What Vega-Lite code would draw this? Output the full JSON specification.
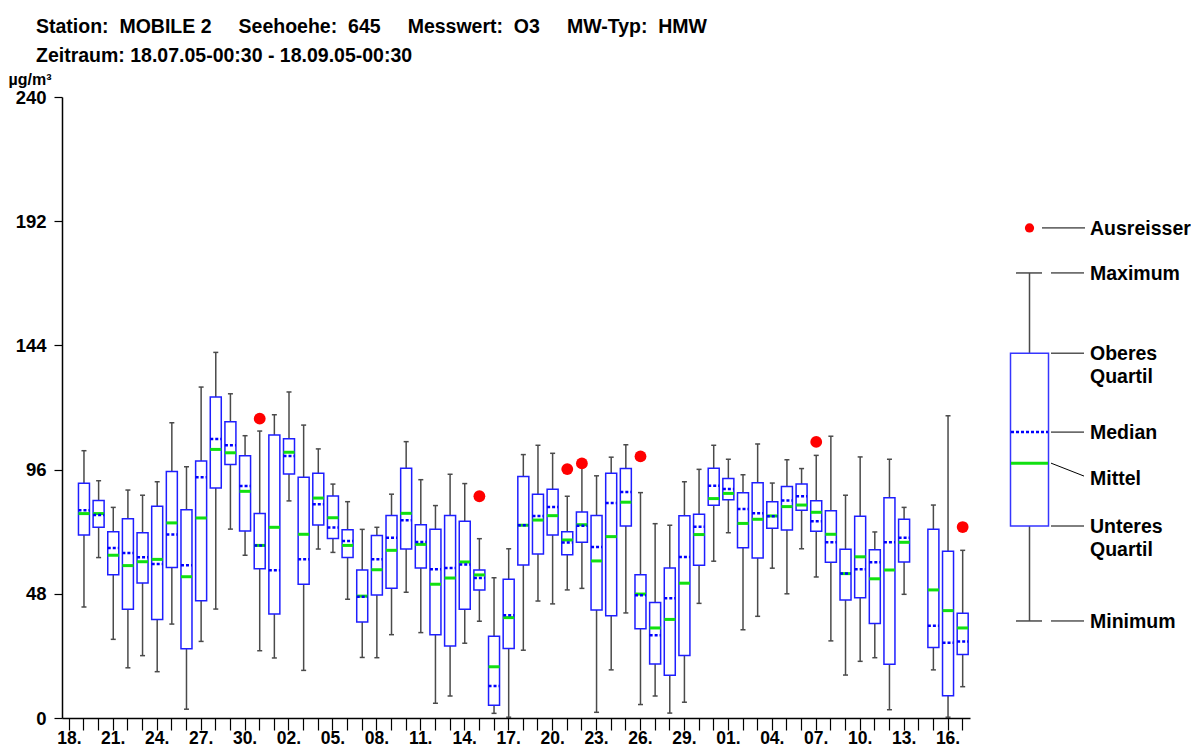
{
  "$schema": "https://vega.github.io/schema/vega-lite/v6.json",
  "background": "white",
  "padding": {"left": 8, "top": 16, "right": 0, "bottom": 0},
  "bounds": "flush",
  "spacing": 0,
  "config": {
    "font": "Liberation Sans, Arial, Helvetica, sans-serif",
    "view": {"stroke": null}
  },
  "title": {
    "text": ["Station:\u00a0 MOBILE 2 \u00a0\u00a0\u00a0\u00a0Seehoehe:\u00a0 645 \u00a0\u00a0\u00a0\u00a0Messwert:\u00a0 O3 \u00a0\u00a0\u00a0\u00a0MW-Typ:\u00a0 HMW", "Zeitraum: 18.07.05-00:30 - 18.09.05-00:30"],
    "anchor": "start",
    "frame": "group",
    "fontSize": 19.5,
    "fontWeight": "bold",
    "color": "black",
    "lineHeight": 29,
    "dx": -26,
    "offset": 5
  },
  "datasets": {
    "boxes": [
      {"d": "2005-07-19", "min": 42.9, "q1": 70.7, "med": 80.3, "mean": 79.0, "q3": 90.7, "max": 103.3},
      {"d": "2005-07-20", "min": 62.0, "q1": 73.7, "med": 78.5, "mean": 79.0, "q3": 84.1, "max": 91.7},
      {"d": "2005-07-21", "min": 30.4, "q1": 55.4, "med": 65.7, "mean": 62.9, "q3": 72.0, "max": 81.4},
      {"d": "2005-07-22", "min": 19.4, "q1": 42.0, "med": 63.8, "mean": 58.9, "q3": 77.0, "max": 88.1},
      {"d": "2005-07-23", "min": 24.1, "q1": 52.2, "med": 62.1, "mean": 60.4, "q3": 71.6, "max": 86.1},
      {"d": "2005-07-24", "min": 17.9, "q1": 38.1, "med": 59.5, "mean": 61.3, "q3": 81.8, "max": 91.3},
      {"d": "2005-07-25", "min": 36.3, "q1": 58.2, "med": 70.9, "mean": 75.4, "q3": 95.3, "max": 114.1},
      {"d": "2005-07-26", "min": 3.4, "q1": 26.8, "med": 59.0, "mean": 54.6, "q3": 80.5, "max": 97.1},
      {"d": "2005-07-27", "min": 29.6, "q1": 45.3, "med": 93.0, "mean": 77.3, "q3": 99.3, "max": 127.9},
      {"d": "2005-07-28", "min": 42.1, "q1": 88.9, "med": 107.8, "mean": 103.8, "q3": 124.1, "max": 141.3},
      {"d": "2005-07-29", "min": 73.0, "q1": 98.0, "med": 105.4, "mean": 102.5, "q3": 114.5, "max": 125.3},
      {"d": "2005-07-30", "min": 62.9, "q1": 72.3, "med": 89.7, "mean": 87.6, "q3": 101.4, "max": 109.1},
      {"d": "2005-07-31", "min": 26.0, "q1": 57.7, "med": 66.7, "mean": 66.7, "q3": 79.0, "max": 110.9},
      {"d": "2005-08-01", "min": 23.2, "q1": 40.2, "med": 57.1, "mean": 73.7, "q3": 109.4, "max": 117.2},
      {"d": "2005-08-02", "min": 83.9, "q1": 94.3, "med": 101.3, "mean": 102.7, "q3": 107.9, "max": 126.0},
      {"d": "2005-08-03", "min": 18.4, "q1": 51.7, "med": 61.4, "mean": 71.0, "q3": 93.0, "max": 113.2},
      {"d": "2005-08-04", "min": 65.3, "q1": 74.6, "med": 82.6, "mean": 85.0, "q3": 94.6, "max": 104.0},
      {"d": "2005-08-05", "min": 64.0, "q1": 69.4, "med": 73.6, "mean": 77.4, "q3": 85.8, "max": 90.4},
      {"d": "2005-08-06", "min": 45.9, "q1": 62.0, "med": 68.4, "mean": 66.7, "q3": 72.8, "max": 83.6},
      {"d": "2005-08-07", "min": 23.4, "q1": 37.1, "med": 46.9, "mean": 47.1, "q3": 57.2, "max": 72.9},
      {"d": "2005-08-08", "min": 23.3, "q1": 47.5, "med": 61.4, "mean": 57.3, "q3": 70.5, "max": 73.7},
      {"d": "2005-08-09", "min": 32.2, "q1": 50.1, "med": 69.7, "mean": 64.8, "q3": 78.3, "max": 86.5},
      {"d": "2005-08-10", "min": 48.6, "q1": 65.3, "med": 76.4, "mean": 79.1, "q3": 96.5, "max": 106.8},
      {"d": "2005-08-11", "min": 33.0, "q1": 58.0, "med": 68.0, "mean": 67.1, "q3": 74.7, "max": 92.1},
      {"d": "2005-08-12", "min": 5.7, "q1": 32.2, "med": 57.5, "mean": 51.7, "q3": 72.9, "max": 82.1},
      {"d": "2005-08-13", "min": 8.5, "q1": 27.8, "med": 58.0, "mean": 54.1, "q3": 78.3, "max": 94.2},
      {"d": "2005-08-14", "min": 28.9, "q1": 42.0, "med": 59.3, "mean": 60.3, "q3": 76.0, "max": 90.6},
      {"d": "2005-08-15", "min": 37.4, "q1": 49.5, "med": 54.1, "mean": 55.3, "q3": 57.2, "max": 69.3},
      {"d": "2005-08-16", "min": 1.8, "q1": 4.9, "med": 12.4, "mean": 19.8, "q3": 31.6, "max": 54.2},
      {"d": "2005-08-17", "min": 0.3, "q1": 26.9, "med": 39.7, "mean": 38.8, "q3": 53.6, "max": 65.4},
      {"d": "2005-08-18", "min": 26.2, "q1": 59.1, "med": 74.5, "mean": 74.5, "q3": 93.3, "max": 101.8},
      {"d": "2005-08-19", "min": 45.2, "q1": 63.4, "med": 78.1, "mean": 76.5, "q3": 86.5, "max": 105.4},
      {"d": "2005-08-20", "min": 44.1, "q1": 70.7, "med": 81.5, "mean": 78.2, "q3": 88.4, "max": 102.3},
      {"d": "2005-08-21", "min": 49.5, "q1": 63.1, "med": 67.8, "mean": 68.8, "q3": 72.0, "max": 85.7},
      {"d": "2005-08-22", "min": 50.1, "q1": 67.9, "med": 74.3, "mean": 74.7, "q3": 79.6, "max": 97.4},
      {"d": "2005-08-23", "min": 2.2, "q1": 41.7, "med": 66.1, "mean": 60.7, "q3": 78.3, "max": 93.6},
      {"d": "2005-08-24", "min": 18.6, "q1": 39.5, "med": 83.1, "mean": 70.1, "q3": 94.6, "max": 100.8},
      {"d": "2005-08-25", "min": 40.6, "q1": 74.2, "med": 87.3, "mean": 83.4, "q3": 96.4, "max": 105.6},
      {"d": "2005-08-26", "min": 5.2, "q1": 34.5, "med": 47.4, "mean": 47.9, "q3": 55.4, "max": 87.1},
      {"d": "2005-08-27", "min": 8.5, "q1": 20.9, "med": 32.0, "mean": 34.8, "q3": 44.6, "max": 75.1},
      {"d": "2005-08-28", "min": 1.9, "q1": 16.5, "med": 46.3, "mean": 38.1, "q3": 58.0, "max": 74.5},
      {"d": "2005-08-29", "min": 6.1, "q1": 24.2, "med": 62.2, "mean": 52.1, "q3": 78.2, "max": 91.3},
      {"d": "2005-08-30", "min": 44.3, "q1": 59.0, "med": 73.9, "mean": 70.9, "q3": 78.7, "max": 96.1},
      {"d": "2005-08-31", "min": 60.6, "q1": 82.2, "med": 89.8, "mean": 84.8, "q3": 96.5, "max": 105.4},
      {"d": "2005-09-01", "min": 71.6, "q1": 84.3, "med": 88.5, "mean": 86.8, "q3": 92.6, "max": 100.0},
      {"d": "2005-09-02", "min": 34.1, "q1": 65.8, "med": 80.8, "mean": 75.2, "q3": 87.1, "max": 94.0},
      {"d": "2005-09-03", "min": 39.3, "q1": 61.8, "med": 79.1, "mean": 76.8, "q3": 90.9, "max": 105.9},
      {"d": "2005-09-04", "min": 57.9, "q1": 73.3, "med": 78.0, "mean": 78.1, "q3": 83.6, "max": 90.8},
      {"d": "2005-09-05", "min": 48.0, "q1": 72.7, "med": 84.1, "mean": 81.7, "q3": 89.5, "max": 99.8},
      {"d": "2005-09-06", "min": 65.4, "q1": 80.3, "med": 85.7, "mean": 82.3, "q3": 90.4, "max": 96.4},
      {"d": "2005-09-07", "min": 54.5, "q1": 72.2, "med": 76.0, "mean": 79.5, "q3": 84.0, "max": 101.5},
      {"d": "2005-09-08", "min": 29.8, "q1": 60.2, "med": 67.9, "mean": 71.0, "q3": 80.1, "max": 108.9},
      {"d": "2005-09-09", "min": 16.6, "q1": 45.6, "med": 55.8, "mean": 55.8, "q3": 65.2, "max": 86.1},
      {"d": "2005-09-10", "min": 21.9, "q1": 46.5, "med": 57.5, "mean": 62.3, "q3": 78.0, "max": 100.9},
      {"d": "2005-09-11", "min": 23.3, "q1": 36.5, "med": 60.2, "mean": 53.8, "q3": 65.0, "max": 71.9},
      {"d": "2005-09-12", "min": 3.2, "q1": 20.8, "med": 67.9, "mean": 57.2, "q3": 85.1, "max": 100.0},
      {"d": "2005-09-13", "min": 47.8, "q1": 60.3, "med": 69.7, "mean": 67.9, "q3": 76.8, "max": 81.4},
      {"d": "2005-09-15", "min": 18.6, "q1": 27.2, "med": 35.7, "mean": 49.5, "q3": 72.9, "max": 82.3},
      {"d": "2005-09-16", "min": 0.3, "q1": 8.6, "med": 29.1, "mean": 41.5, "q3": 64.4, "max": 116.8},
      {"d": "2005-09-17", "min": 12.1, "q1": 24.5, "med": 29.6, "mean": 34.8, "q3": 40.5, "max": 64.8}
    ],
    "outliers": [
      {"d": "2005-07-31", "value": 115.7},
      {"d": "2005-08-15", "value": 85.7},
      {"d": "2005-08-21", "value": 96.2},
      {"d": "2005-08-22", "value": 98.4},
      {"d": "2005-08-26", "value": 101.1},
      {"d": "2005-09-07", "value": 106.7},
      {"d": "2005-09-17", "value": 73.8}
    ],
    "legendBox": [
      {"min": 37.5, "q1": 74.2, "med": 110.5, "mean": 98.5, "q3": 141.0, "max": 172.0, "out": 189.4}
    ],
    "legendLabels": [
      {"label": "Ausreisser", "v": 189.4, "kind": "outlier"},
      {"label": "Maximum", "v": 172.0, "kind": "plain"},
      {"label": "Oberes\nQuartil", "v": 141.0, "kind": "plain"},
      {"label": "Median", "v": 110.5, "kind": "plain"},
      {"label": "Mittel", "v": 92.6, "kind": "mean"},
      {"label": "Unteres\nQuartil", "v": 74.2, "kind": "plain"},
      {"label": "Minimum", "v": 37.5, "kind": "plain"}
    ]
  },
  "hconcat": [
    {
      "width": 908,
      "height": 621,
      "data": {"name": "boxes"},
      "encoding": {
        "x": {
          "field": "d",
          "type": "ordinal",
          "scale": {
            "domain": ["2005-07-18","2005-07-19","2005-07-20","2005-07-21","2005-07-22","2005-07-23","2005-07-24","2005-07-25","2005-07-26","2005-07-27","2005-07-28","2005-07-29","2005-07-30","2005-07-31","2005-08-01","2005-08-02","2005-08-03","2005-08-04","2005-08-05","2005-08-06","2005-08-07","2005-08-08","2005-08-09","2005-08-10","2005-08-11","2005-08-12","2005-08-13","2005-08-14","2005-08-15","2005-08-16","2005-08-17","2005-08-18","2005-08-19","2005-08-20","2005-08-21","2005-08-22","2005-08-23","2005-08-24","2005-08-25","2005-08-26","2005-08-27","2005-08-28","2005-08-29","2005-08-30","2005-08-31","2005-09-01","2005-09-02","2005-09-03","2005-09-04","2005-09-05","2005-09-06","2005-09-07","2005-09-08","2005-09-09","2005-09-10","2005-09-11","2005-09-12","2005-09-13","2005-09-14","2005-09-15","2005-09-16","2005-09-17"],
            "paddingInner": 0,
            "paddingOuter": 0
          },
          "axis": {
            "title": null,
            "labelExpr": "((toDate(datum.value) - toDate('2005-07-18')) / 86400000) % 3 === 0 ? utcFormat(toDate(datum.value), '%d.') : ''",
            "labelAngle": 0,
            "labelAlign": "center",
            "labelBaseline": "top",
            "labelDx": 3,
            "labelPadding": -1,
            "labelFontSize": 17.5,
            "labelFontWeight": "bold",
            "labelColor": "black",
            "labelOverlap": false,
            "labelBound": false,
            "tickSize": 12,
            "tickColor": "black",
            "tickWidth": 1.2,
            "domainColor": "black",
            "domainWidth": 1.5
          }
        }
      },
      "layer": [
        {
          "mark": {"type": "rule", "color": "#4a4a4a", "strokeWidth": 1.5},
          "encoding": {
            "y": {
              "field": "min",
              "type": "quantitative",
              "scale": {"domain": [0, 240], "nice": false, "zero": true},
              "axis": {
                "values": [0, 48, 96, 144, 192, 240],
                "title": "µg/m³",
                "titleAngle": 0,
                "titleAlign": "left",
                "titleBaseline": "alphabetic",
                "titleX": -54,
                "titleY": -13,
                "titleFontSize": 16,
                "titleFontWeight": "bold",
                "titleColor": "black",
                "grid": false,
                "tickSize": 8,
                "tickColor": "black",
                "tickWidth": 1.2,
                "labelPadding": 8,
                "labelFontSize": 18.5,
                "labelFontWeight": "bold",
                "labelColor": "black",
                "domainColor": "black",
                "domainWidth": 1.5
              }
            },
            "y2": {"field": "max"}
          }
        },
        {
          "mark": {"type": "rule", "color": "#4a4a4a", "strokeWidth": 1.5, "xOffset": -2.5, "x2Offset": 2.5},
          "encoding": {"x2": {"field": "d"}, "y": {"field": "min", "type": "quantitative"}}
        },
        {
          "mark": {"type": "rule", "color": "#4a4a4a", "strokeWidth": 1.5, "xOffset": -2.5, "x2Offset": 2.5},
          "encoding": {"x2": {"field": "d"}, "y": {"field": "max", "type": "quantitative"}}
        },
        {
          "mark": {"type": "bar", "fill": "white", "stroke": "#1e1eff", "strokeWidth": 1.5, "width": 11},
          "encoding": {"y": {"field": "q1", "type": "quantitative"}, "y2": {"field": "q3"}}
        },
        {
          "mark": {"type": "rule", "color": "#11e011", "strokeWidth": 3, "xOffset": -5.5, "x2Offset": 5.5},
          "encoding": {"x2": {"field": "d"}, "y": {"field": "mean", "type": "quantitative"}}
        },
        {
          "mark": {"type": "rule", "color": "#0000ff", "strokeWidth": 2.5, "strokeDash": [3, 2], "xOffset": -5.5, "x2Offset": 5.5},
          "encoding": {"x2": {"field": "d"}, "y": {"field": "med", "type": "quantitative"}}
        },
        {
          "data": {"name": "outliers"},
          "mark": {"type": "point", "filled": true, "color": "#ff0000", "opacity": 1, "size": 140},
          "encoding": {"y": {"field": "value", "type": "quantitative"}}
        }
      ]
    },
    {
      "width": 215,
      "height": 621,
      "layer": [
        {
          "data": {"name": "legendBox"},
          "mark": {"type": "rule", "color": "#4a4a4a", "strokeWidth": 1.5},
          "encoding": {
            "x": {"datum": 59.5, "type": "quantitative", "scale": {"domain": [0, 215], "nice": false, "zero": false}, "axis": null},
            "y": {"field": "min", "type": "quantitative", "scale": {"domain": [0, 240], "nice": false}, "axis": null},
            "y2": {"field": "max"}
          }
        },
        {
          "data": {"name": "legendBox"},
          "mark": {"type": "rule", "color": "#4a4a4a", "strokeWidth": 1.5},
          "encoding": {"x": {"datum": 46, "type": "quantitative"}, "x2": {"datum": 72}, "y": {"field": "min", "type": "quantitative"}}
        },
        {
          "data": {"name": "legendBox"},
          "mark": {"type": "rule", "color": "#4a4a4a", "strokeWidth": 1.5},
          "encoding": {"x": {"datum": 46, "type": "quantitative"}, "x2": {"datum": 72}, "y": {"field": "max", "type": "quantitative"}}
        },
        {
          "data": {"name": "legendBox"},
          "mark": {"type": "bar", "fill": "white", "stroke": "#3535ff", "strokeWidth": 1.5},
          "encoding": {"x": {"datum": 40.5, "type": "quantitative"}, "x2": {"datum": 78.5}, "y": {"field": "q1", "type": "quantitative"}, "y2": {"field": "q3"}}
        },
        {
          "data": {"name": "legendBox"},
          "mark": {"type": "rule", "color": "#11e011", "strokeWidth": 3},
          "encoding": {"x": {"datum": 41, "type": "quantitative"}, "x2": {"datum": 78}, "y": {"field": "mean", "type": "quantitative"}}
        },
        {
          "data": {"name": "legendBox"},
          "mark": {"type": "rule", "color": "#0000ff", "strokeWidth": 2.5, "strokeDash": [3, 2]},
          "encoding": {"x": {"datum": 41, "type": "quantitative"}, "x2": {"datum": 78}, "y": {"field": "med", "type": "quantitative"}}
        },
        {
          "data": {"name": "legendBox"},
          "mark": {"type": "point", "filled": true, "color": "#ff0000", "opacity": 1, "size": 85},
          "encoding": {"x": {"datum": 59.5, "type": "quantitative"}, "y": {"field": "out", "type": "quantitative"}}
        },
        {
          "data": {"name": "legendLabels"},
          "transform": [{"filter": "datum.kind === 'plain'"}],
          "mark": {"type": "rule", "color": "black", "strokeWidth": 1},
          "encoding": {"x": {"datum": 81, "type": "quantitative"}, "x2": {"datum": 114}, "y": {"field": "v", "type": "quantitative"}}
        },
        {
          "data": {"name": "legendLabels"},
          "transform": [{"filter": "datum.kind === 'outlier'"}],
          "mark": {"type": "rule", "color": "black", "strokeWidth": 1},
          "encoding": {"x": {"datum": 72, "type": "quantitative"}, "x2": {"datum": 115}, "y": {"field": "v", "type": "quantitative"}}
        },
        {
          "data": {"name": "legendBox"},
          "mark": {"type": "rule", "color": "black", "strokeWidth": 1},
          "encoding": {"x": {"datum": 81, "type": "quantitative"}, "x2": {"datum": 114}, "y": {"field": "mean", "type": "quantitative"}, "y2": {"datum": 93.5}}
        },
        {
          "data": {"name": "legendLabels"},
          "mark": {"type": "text", "align": "left", "baseline": "alphabetic", "dy": 7, "fontSize": 19.5, "fontWeight": "bold", "color": "black", "lineBreak": "\n", "lineHeight": 23},
          "encoding": {"x": {"datum": 120, "type": "quantitative"}, "y": {"field": "v", "type": "quantitative"}, "text": {"field": "label"}}
        }
      ]
    }
  ]
}
